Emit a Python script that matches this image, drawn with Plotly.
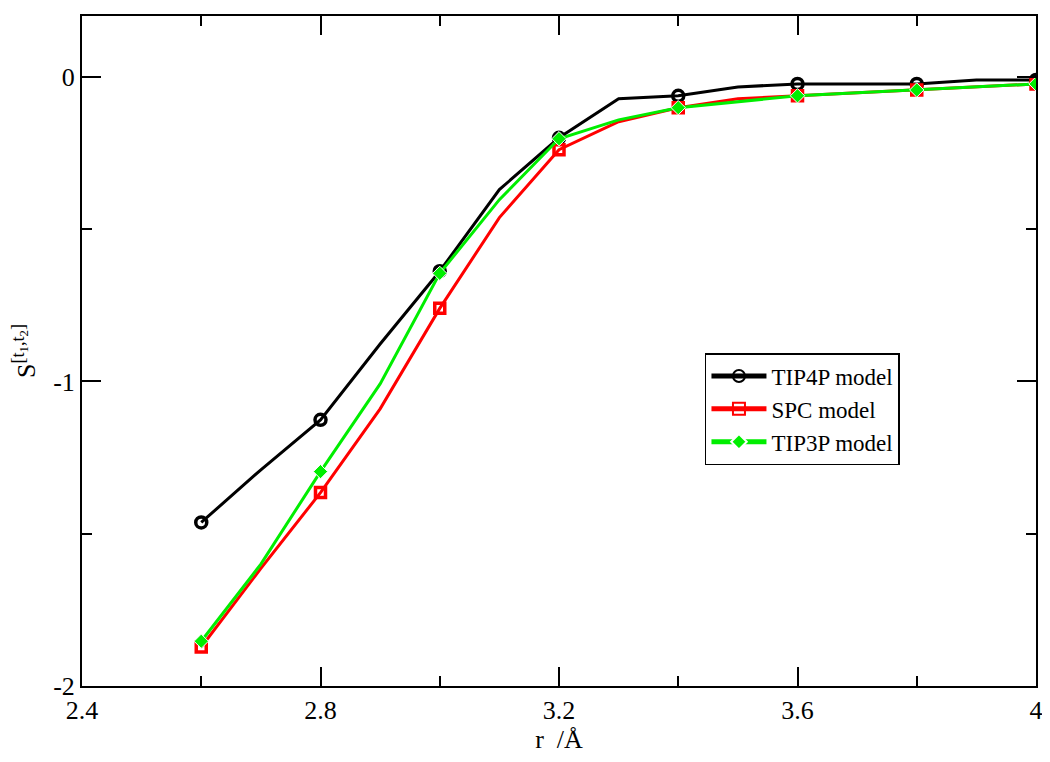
import plotly.graph_objects as go

# distance r / Angstrom
r = [2.6, 2.7, 2.8, 2.9, 3.0, 3.1, 3.2, 3.3, 3.4, 3.5, 3.6, 3.7, 3.8, 3.9, 4.0]

# S^[t1,t2] for each water model
tip4p = [-1.463, -1.29, -1.126, -0.877, -0.638, -0.37, -0.20, -0.072, -0.062,
         -0.033, -0.023, -0.023, -0.023, -0.01, -0.01]
spc = [-1.872, -1.614, -1.365, -1.09, -0.76, -0.462, -0.239, -0.147, -0.101,
       -0.072, -0.062, -0.052, -0.043, -0.033, -0.023]
tip3p = [-1.853, -1.60, -1.296, -1.008, -0.645, -0.403, -0.203, -0.141, -0.101,
         -0.082, -0.062, -0.052, -0.043, -0.033, -0.023]

x_ticks = [2.4, 2.8, 3.2, 3.6, 4.0]
x_labels = ["2.4", "2.8", "3.2", "3.6", "4"]
y_ticks = [-2, -1, 0]
y_labels = ["-2", "-1", "0"]

# markers only on every second point (2.6, 2.8, ...)
def msize(s):
    return [s if i % 2 == 0 else 0 for i in range(len(r))]

fig = go.Figure()
fig.add_trace(go.Scatter(x=r, y=tip4p, name="TIP4P model", mode="lines+markers",
                         line=dict(color="black", width=3),
                         marker=dict(symbol="circle-open", size=msize(11), color="black",
                                     opacity=1, line=dict(width=3.5, color="black"))))
fig.add_trace(go.Scatter(x=r, y=spc, name="SPC model", mode="lines+markers",
                         line=dict(color="#ff0000", width=3),
                         marker=dict(symbol="square-open", size=msize(10), color="#ff0000",
                                     opacity=1, line=dict(width=3.5, color="#ff0000"))))
fig.add_trace(go.Scatter(x=r, y=tip3p, name="TIP3P model", mode="lines+markers",
                         line=dict(color="#00ee00", width=3),
                         marker=dict(symbol="diamond", size=msize(11), color="#00ee00",
                                     opacity=1)))

serif = "Liberation Serif"

axis_common = dict(
    showgrid=False, zeroline=False, showline=True, linecolor="black", linewidth=2,
    mirror="allticks", ticks="inside", ticklen=19, tickwidth=2, tickcolor="black",
    tickfont=dict(family=serif, size=26, color="black"), automargin=False,
)

fig.update_xaxes(range=[2.4, 4.0], tickvals=x_ticks, ticktext=x_labels,
                 title=dict(text="r  /Å", font=dict(family=serif, size=26, color="black"),
                            standoff=2),
                 minor=dict(ticks="inside", ticklen=10, tickwidth=2, tickcolor="black",
                            tickvals=[2.6, 3.0, 3.4, 3.8]),
                 **axis_common)
fig.update_yaxes(range=[-2, 0.2], tickvals=y_ticks, ticktext=y_labels,
                 title=dict(text="S<sup>[t<sub>1</sub>,t<sub>2</sub>]</sup>",
                            font=dict(family=serif, size=26, color="black"),
                            standoff=18),
                 minor=dict(ticks="inside", ticklen=10, tickwidth=2, tickcolor="black",
                            tickvals=[-1.5, -0.5]),
                 **axis_common)

# page body has an 8px margin, so the figure is shrunk to fit the window
fig.update_layout(
    width=1042, height=754,
    margin=dict(l=74, r=14, t=8, b=76),
    plot_bgcolor="white", paper_bgcolor="white",
    font=dict(family=serif, color="black"),
    legend=dict(x=0.653, y=0.497, xanchor="left", yanchor="top",
                bordercolor="black", borderwidth=1.5, bgcolor="white",
                font=dict(family=serif, size=23, color="black"),
                itemsizing="constant", itemwidth=55, tracegroupgap=0),
    showlegend=True,
)

fig.write_html("out.html")
